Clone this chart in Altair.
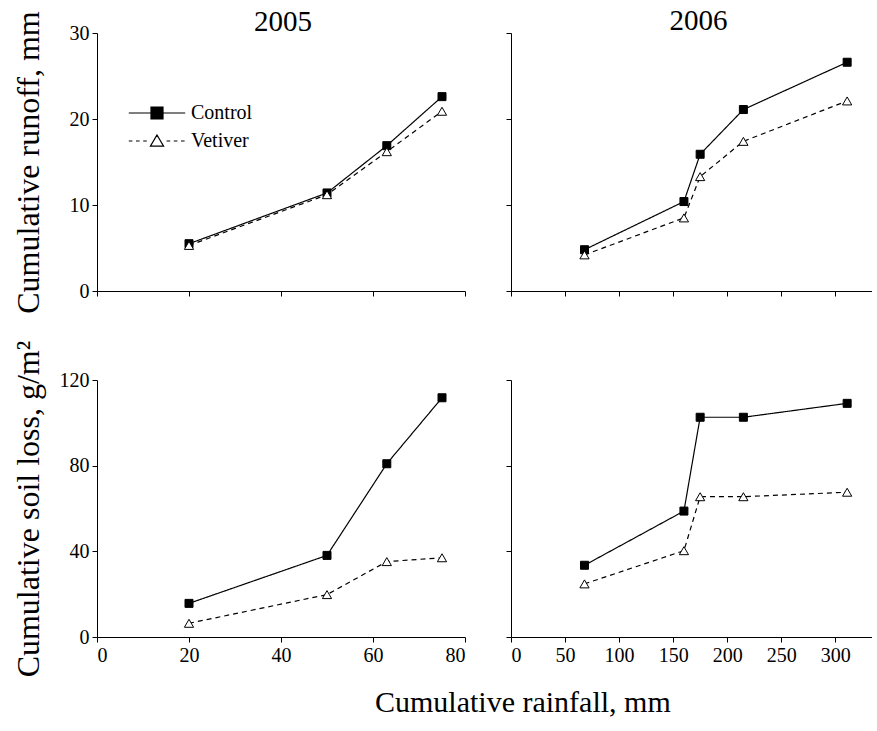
import altair as alt
import pandas as pd

FONT = "Liberation Serif"

series = ["Control", "Vetiver"]
rain_2005 = [20, 50, 63, 75]
rain_2006 = [68, 160, 175, 215, 311]
runoff_2005_control = [5.5, 11.4, 16.9, 22.6]
runoff_2005_vetiver = [5.3, 11.2, 16.2, 20.9]
runoff_2006_control = [4.8, 10.4, 15.9, 21.1, 26.6]
runoff_2006_vetiver = [4.2, 8.5, 13.3, 17.4, 22.1]
soil_2005_control = [15.7, 38.1, 80.9, 111.7]
soil_2005_vetiver = [6.4, 19.8, 35.2, 37.0]
soil_2006_control = [33.5, 58.8, 102.6, 102.6, 109.1]
soil_2006_vetiver = [24.8, 40.3, 65.5, 65.5, 67.6]

x_ticks_2005 = [0, 20, 40, 60, 80]
x_ticks_2006 = [0, 50, 100, 150, 200, 250, 300]
y_ticks_runoff = [0, 10, 20, 30]
y_ticks_soil = [0, 40, 80, 120]


def frame(rain, control, vetiver):
    rows = []
    for s, vals in zip(series, [control, vetiver]):
        for r, v in zip(rain, vals):
            rows.append({"rain": r, "value": v, "series": s})
    return pd.DataFrame(rows)


dash_scale = alt.Scale(domain=series, range=[[1, 0], [5, 4]])
shape_scale = alt.Scale(domain=series, range=["square", "triangle-up"])
fill_scale = alt.Scale(domain=series, range=["black", "white"])
size_scale = alt.Scale(domain=series, range=[64, 85])

legend_paths = [
    "M-4.7,0H-1M1,0H4.7M-1,-1H1V1H-1Z",
    "M-4.7,0H-4.1M-3.5,0H-2.9M-2.3,0H-1.7M1.6,0H2.2M2.8,0H3.4M4.0,0H4.6M0,-1L1.1,0.85H-1.1Z",
]

legend_def = alt.Legend(
    orient="none", legendX=50, legendY=70, title=None, labelFont=FONT,
    labelFontSize=20, labelColor="black", symbolSize=144,
    symbolStrokeWidth=1.2, labelOffset=24, rowPadding=8, padding=0,
    symbolOffset=0)


def panel(df, xdom, xticks, ydom, yticks, w, h, xlabels, ylabels,
          ytitle=None, title=None, ytp=10, legend=False, tdy=0, tdx=0):
    x = alt.X("rain:Q",
              scale=alt.Scale(domain=xdom, nice=False, zero=False),
              axis=alt.Axis(values=xticks, labels=xlabels, title=None,
                            labelFont=FONT, labelFontSize=20))
    y = alt.Y("value:Q",
              scale=alt.Scale(domain=ydom, nice=False, zero=False),
              axis=alt.Axis(values=yticks, labels=ylabels,
                            title=ytitle if ytitle else None,
                            titlePadding=ytp, labelFont=FONT,
                            labelFontSize=20, titleFont=FONT,
                            titleFontSize=32))
    base = alt.Chart(df)
    line = base.mark_line(color="black", strokeWidth=1.2).encode(
        x=x, y=y,
        strokeDash=alt.StrokeDash("series:N", scale=dash_scale, legend=None),
        detail="series:N",
    )
    pts = base.mark_point(filled=True, stroke="black", strokeWidth=1,
                          opacity=1).encode(
        x=x, y=y,
        shape=alt.Shape("series:N", scale=shape_scale, legend=None),
        fill=alt.Fill("series:N", scale=fill_scale, legend=None),
        size=alt.Size("series:N", scale=size_scale, legend=None),
    )
    layers = [line, pts]
    if legend:
        leg = base.transform_filter("false").mark_point(
            filled=True, strokeWidth=1.2, opacity=1).encode(
            x=x, y=y,
            shape=alt.Shape("series:N",
                            scale=alt.Scale(domain=series, range=legend_paths),
                            legend=legend_def),
            fill=alt.Fill("series:N",
                          scale=alt.Scale(domain=series,
                                          range=["black", "white"]),
                          legend=legend_def),
            stroke=alt.Stroke("series:N",
                              scale=alt.Scale(domain=series,
                                              range=["black", "black"]),
                              legend=legend_def),
        )
        layers.append(leg)
    ch = alt.layer(*layers).properties(width=w, height=h)
    if legend:
        ch = ch.resolve_scale(shape="independent", fill="independent",
                              stroke="independent")
    if title:
        ch = ch.properties(title=alt.TitleParams(
            title, font=FONT, fontSize=29, fontWeight="normal",
            color="black", offset=2, frame="group", dy=tdy, dx=tdx))
    return ch


p1 = panel(frame(rain_2005, runoff_2005_control, runoff_2005_vetiver),
           [0, 80], x_ticks_2005, [0, 30], y_ticks_runoff, 368, 258,
           False, True, ytitle="Cumulative runoff, mm", title="2005",
           ytp=24, legend=True, tdy=28, tdx=2)
p2 = panel(frame(rain_2006, runoff_2006_control, runoff_2006_vetiver),
           [0, 334], x_ticks_2006, [0, 30], y_ticks_runoff, 361, 258,
           False, False, title="2006", tdy=5, tdx=7)
p3 = panel(frame(rain_2005, soil_2005_control, soil_2005_vetiver),
           [0, 80], x_ticks_2005, [0, 120], y_ticks_soil, 368, 257,
           True, True, ytitle="Cumulative soil loss, g/m²", ytp=14)
p4 = panel(frame(rain_2006, soil_2006_control, soil_2006_vetiver),
           [0, 334], x_ticks_2006, [0, 120], y_ticks_soil, 361, 257,
           True, False)

chart = alt.concat(
    p1, p2, p3, p4, columns=2,
    spacing=alt.RowColnumber(row=89, column=46),
    bounds="flush", align="each",
).properties(
    title=alt.TitleParams("Cumulative rainfall, mm", orient="bottom",
                          font=FONT, fontSize=30, fontWeight="normal",
                          color="black", offset=11, anchor="start",
                          frame="group", dx=278),
    padding={"left": 11, "top": 6, "right": 0, "bottom": 0},
).configure_view(stroke=None).configure_axis(
    domainColor="black", tickColor="black", tickSize=5, domainWidth=1,
    tickWidth=1, labelFont=FONT, labelFontSize=20, labelColor="black",
    labelPadding=3, grid=False, titleFont=FONT, titleFontSize=32,
    titleFontWeight="normal", titleColor="black",
)

chart.save("out.html", embed_options={"renderer": "svg", "actions": False})
